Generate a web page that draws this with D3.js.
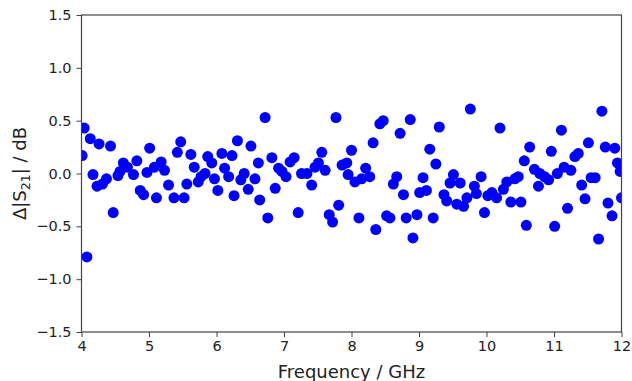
<!DOCTYPE html>
<html lang="en">
<head>
    <meta charset="UTF-8">
    <title>Delta S21 vs frequency</title>
    <script src="https://d3js.org/d3.v7.min.js"></script>
    <style>
        body { margin: 0; background: #fff; }
        svg { display: block; }
        .tick text { font-family: "DejaVu Sans", sans-serif; font-size: 14.5px; fill: #222; }
        .axis-label { font-family: "DejaVu Sans", sans-serif; font-size: 18px; fill: #222; }
    </style>
</head>
<body>
    <div id="chart"></div>
    <script>
        var freq = [4.01, 4.04, 4.08, 4.13, 4.17, 4.23, 4.26, 4.31, 4.37, 4.43, 4.47, 4.54, 4.57, 4.62, 4.68, 4.77,
            4.82, 4.87, 4.92, 4.97, 5.01, 5.08, 5.11, 5.18, 5.23, 5.29, 5.37, 5.42, 5.47, 5.52, 5.56, 5.62,
            5.67, 5.73, 5.77, 5.83, 5.87, 5.93, 5.97, 6.02, 6.08, 6.12, 6.18, 6.23, 6.26, 6.31, 6.36, 6.41,
            6.47, 6.51, 6.57, 6.62, 6.64, 6.72, 6.76, 6.82, 6.87, 6.92, 6.97, 7.03, 7.09, 7.15, 7.21, 7.26,
            7.34, 7.41, 7.46, 7.51, 7.56, 7.61, 7.67, 7.72, 7.77, 7.81, 7.86, 7.93, 7.95, 8.00, 8.05, 8.11,
            8.15, 8.21, 8.27, 8.32, 8.36, 8.42, 8.47, 8.52, 8.57, 8.62, 8.67, 8.72, 8.77, 8.81, 8.87, 8.91,
            8.97, 9.01, 9.06, 9.11, 9.16, 9.21, 9.25, 9.30, 9.37, 9.41, 9.46, 9.51, 9.56, 9.61, 9.66, 9.71,
            9.76, 9.82, 9.85, 9.92, 9.97, 10.02, 10.08, 10.15, 10.20, 10.25, 10.30, 10.36, 10.42, 10.47, 10.51, 10.56,
            10.59, 10.64, 10.71, 10.77, 10.79, 10.86, 10.92, 10.96, 11.01, 11.05, 11.11, 11.15, 11.20, 11.25, 11.31, 11.36,
            11.41, 11.46, 11.51, 11.55, 11.61, 11.66, 11.71, 11.76, 11.80, 11.86, 11.90, 11.94, 11.98, 12.00];

        var deltaS21 = [0.17, 0.43, -0.79, 0.33, -0.01, -0.12, 0.28, -0.10, -0.05, 0.26, -0.37, -0.02, 0.02, 0.10, 0.06, -0.01,
            0.12, -0.16, -0.20, 0.01, 0.24, 0.06, -0.23, 0.11, 0.03, -0.11, -0.23, 0.20, 0.30, -0.23, -0.10, 0.18,
            0.06, -0.08, -0.03, 0.00, 0.16, 0.10, -0.05, -0.16, 0.19, 0.05, -0.03, 0.17, -0.21, 0.31, -0.06, 0.00,
            -0.15, 0.26, -0.05, 0.10, -0.25, 0.53, -0.42, 0.15, -0.14, 0.05, 0.02, -0.03, 0.11, 0.15, -0.37, 0.00,
            0.00, -0.11, 0.06, 0.10, 0.20, 0.03, -0.39, -0.46, 0.53, -0.30, 0.08, 0.10, -0.01, 0.22, -0.08, -0.42,
            -0.05, 0.05, -0.03, 0.29, -0.53, 0.47, 0.50, -0.40, -0.42, -0.10, -0.03, 0.38, -0.20, -0.42, 0.51, -0.61,
            -0.39, -0.18, -0.04, -0.16, 0.23, -0.42, 0.09, 0.44, -0.20, -0.26, -0.09, -0.01, -0.29, -0.09, -0.31, -0.23,
            0.61, -0.12, -0.19, -0.03, -0.37, -0.21, -0.18, -0.23, 0.43, -0.15, -0.08, -0.27, -0.05, -0.03, -0.27, 0.12,
            -0.49, 0.25, 0.04, -0.12, 0.00, -0.03, -0.06, 0.21, -0.50, 0.00, 0.41, 0.06, -0.33, 0.03, 0.16, 0.19,
            -0.11, -0.24, 0.29, -0.04, -0.04, -0.62, 0.59, 0.25, -0.28, -0.40, 0.24, 0.10, 0.02, -0.23];

        var xTicks = [4, 5, 6, 7, 8, 9, 10, 11, 12];
        var yTicks = [-1.5, -1.0, -0.5, 0.0, 0.5, 1.0, 1.5];

        var width = 632, height = 381;
        var margin = {top: 15, right: 10.5, bottom: 49, left: 81.5};

        var svg = d3.select("#chart").append("svg")
            .attr("width", width)
            .attr("height", height);

        var x = d3.scaleLinear().domain([4, 12]).range([margin.left, width - margin.right]);
        var y = d3.scaleLinear().domain([-1.5, 1.5]).range([height - margin.bottom, margin.top]);

        // Clip für die Marker (wie matplotlib clip_on)
        svg.append("clipPath").attr("id", "plotclip")
            .append("rect")
            .attr("x", x(4)).attr("y", y(1.5))
            .attr("width", x(12) - x(4)).attr("height", y(-1.5) - y(1.5));

        var points = freq.map((f, i) => ({f: f, d: deltaS21[i]}));

        svg.append("g").attr("clip-path", "url(#plotclip)")
            .selectAll("circle")
            .data(points)
            .join("circle")
            .attr("cx", p => x(p.f))
            .attr("cy", p => y(p.d))
            .attr("r", 5.5)
            .attr("fill", "#0000ff");

        // Achsen
        var xAxis = svg.append("g")
            .attr("transform", "translate(0," + y(-1.5) + ")")
            .call(d3.axisBottom(x).tickValues(xTicks).tickFormat(d3.format("d")).tickSize(5).tickPadding(4));

        var yAxis = svg.append("g")
            .attr("transform", "translate(" + x(4) + ",0)")
            .call(d3.axisLeft(y).tickValues(yTicks).tickFormat(d3.format(".1f")).tickSize(5).tickPadding(5));

        [xAxis, yAxis].forEach(a => {
            a.select(".domain").remove();
            a.selectAll(".tick line").attr("stroke", "#444").attr("stroke-width", 1);
        });

        // Rahmen
        svg.append("rect")
            .attr("x", x(4)).attr("y", y(1.5))
            .attr("width", x(12) - x(4)).attr("height", y(-1.5) - y(1.5))
            .attr("fill", "none")
            .attr("stroke", "#444")
            .attr("stroke-width", 1.2);

        svg.append("text")
            .attr("class", "axis-label")
            .attr("x", (x(4) + x(12)) / 2)
            .attr("y", 378)
            .attr("text-anchor", "middle")
            .text("Frequency / GHz");

        var yl = svg.append("text")
            .attr("class", "axis-label")
            .attr("transform", "translate(26," + ((y(1.5) + y(-1.5)) / 2) + ") rotate(-90)")
            .attr("text-anchor", "middle");
        yl.append("tspan").text("Δ|S");
        yl.append("tspan").attr("font-size", "12.5px").attr("dy", 4).text("21");
        yl.append("tspan").attr("dy", -4).text("| / dB");
    </script>
</body>
</html>
